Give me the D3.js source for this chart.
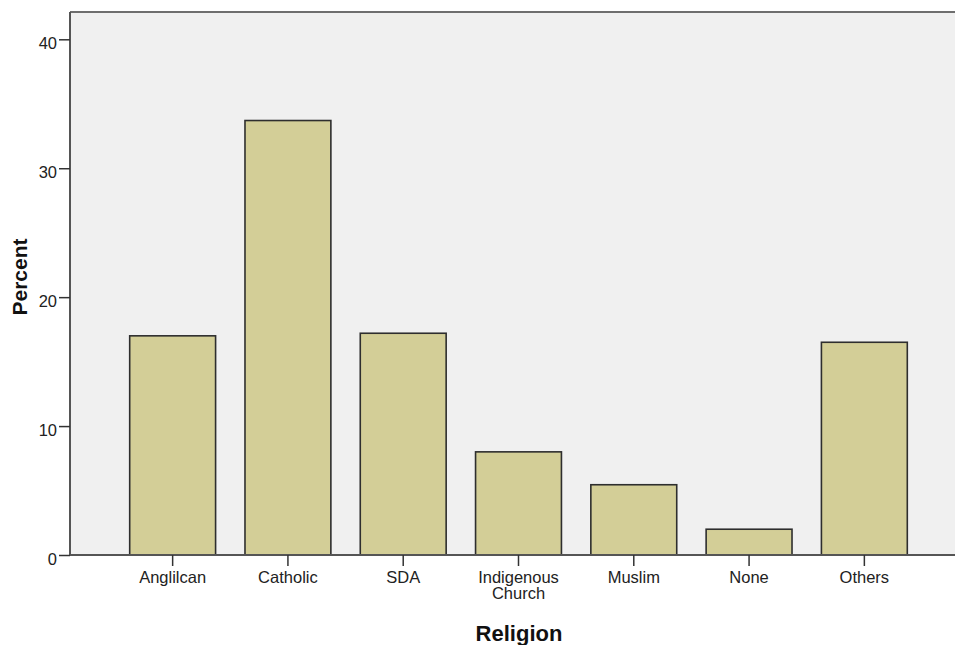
<!DOCTYPE html>
<html>
<head>
<meta charset="utf-8">
<script src="https://cdn.jsdelivr.net/npm/d3@7"></script>
<style>
html,body{margin:0;padding:0;background:#fff;}
svg{display:block;font-family:"Liberation Sans",Arial,sans-serif;}
</style>
</head>
<body>
<svg id="chart" width="955" height="645"></svg>
<script>
const categories = ["Anglilcan", "Catholic", "SDA", "Indigenous Church", "Muslim", "None", "Others"];
const percents = [17.0, 33.7, 17.2, 8.0, 5.45, 2.0, 16.5];
const yTicks = [0, 10, 20, 30, 40];
const xTitle = "Religion";
const yTitle = "Percent";

const svg = d3.select("#chart");
const plot = {left: 70, top: 12, right: 957, bottom: 555};

svg.append("rect")
  .attr("x", plot.left).attr("y", plot.top)
  .attr("width", plot.right - plot.left).attr("height", plot.bottom - plot.top)
  .attr("fill", "#f0f0f0");

const x = d3.scaleBand().domain(categories).range([115, 922]).paddingInner(0.255).paddingOuter(0.1275);
const y = d3.scaleLinear().domain([0, 40]).range([555, 39.3]);

// bars
svg.append("g").selectAll("rect").data(categories).join("rect")
  .attr("x", d => x(d))
  .attr("y", (d, i) => y(percents[i]))
  .attr("width", x.bandwidth())
  .attr("height", (d, i) => y(0) - y(percents[i]))
  .attr("fill", "#d3ce97")
  .attr("stroke", "#2e2e2e")
  .attr("stroke-width", 1.6);

// top border
svg.append("line")
  .attr("x1", plot.left).attr("x2", plot.right)
  .attr("y1", plot.top).attr("y2", plot.top)
  .attr("stroke", "#6e6e6e").attr("stroke-width", 2);

// y axis
const yAxis = d3.axisLeft(y).tickValues(yTicks).tickSize(11).tickPadding(2).tickFormat(d3.format("d"));
const gy = svg.append("g").attr("transform", `translate(${plot.left},0)`).call(yAxis);
gy.select(".domain").attr("d", `M0,${plot.top}V${plot.bottom}`).attr("stroke", "#555").attr("stroke-width", 2);
gy.selectAll(".tick line").attr("stroke", "#333").attr("stroke-width", 1.5);
gy.selectAll(".tick text").attr("font-size", 16.5).attr("fill", "#222").attr("dy", "0.55em")
  .attr("font-family", "'Liberation Sans',Arial,sans-serif");

// x axis
const xAxis = d3.axisBottom(x).tickSize(11).tickPadding(5);
const gx = svg.append("g").attr("transform", `translate(0,${plot.bottom})`).call(xAxis);
gx.select(".domain").attr("d", `M${plot.left},0H${plot.right}`).attr("stroke", "#555").attr("stroke-width", 2);
gx.selectAll(".tick line").attr("stroke", "#333").attr("stroke-width", 1.5);
gx.selectAll(".tick text").attr("font-size", 16.5).attr("fill", "#222")
  .attr("font-family", "'Liberation Sans',Arial,sans-serif")
  .each(function(d) {
    const t = d3.select(this);
    const words = d.split(" ");
    t.text(null);
    words.forEach((w, i) => {
      t.append("tspan").attr("x", 0).attr("dy", i === 0 ? "0.71em" : "1.0em").text(w);
    });
  });

// axis titles
svg.append("text")
  .attr("x", 519).attr("y", 641)
  .attr("text-anchor", "middle")
  .attr("font-size", 22).attr("font-weight", "bold").attr("fill", "#111")
  .text(xTitle);

svg.append("text")
  .attr("transform", "translate(26.5,277) rotate(-90)")
  .attr("text-anchor", "middle")
  .attr("font-size", 21).attr("font-weight", "bold").attr("fill", "#111")
  .text(yTitle);
</script>
</body>
</html>
